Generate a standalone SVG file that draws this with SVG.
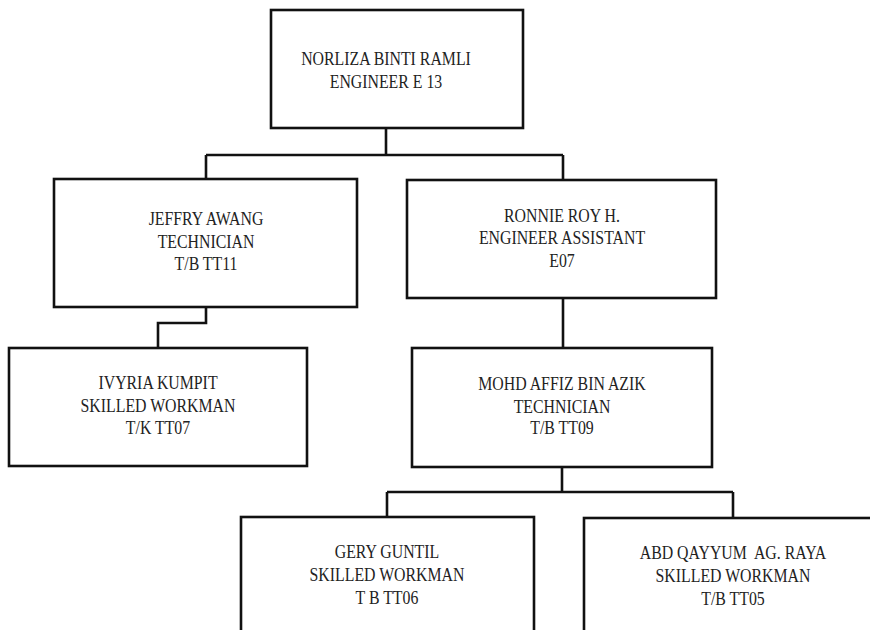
<svg xmlns="http://www.w3.org/2000/svg" width="870" height="630" viewBox="0 0 870 630">
  <style>
    .box { fill: #ffffff; stroke: #111111; stroke-width: 2.6; }
    .link { fill: none; stroke: #111111; stroke-width: 2.6; }
    .label { font-family: "Liberation Serif", "Times New Roman", serif; font-size: 18px; fill: #222222; text-anchor: middle; white-space: pre; }
  </style>
  <rect x="0" y="0" width="870" height="630" fill="#ffffff"/>

  <!-- reporting lines -->
  <g id="connectors">
    <path class="link" d="M386 128 V155 M206 155 H563 M206 155 V179 M563 155 V180"/>
    <path class="link" d="M206 307 V323 H158 V348"/>
    <path class="link" d="M563 298 V348"/>
    <path class="link" d="M562 467 V492 M387 492 H733 M387 492 V517 M733 492 V518"/>
  </g>

  <!-- labels are set in a narrowed serif: each text block is squeezed to 88% width about its centre line -->
  <g id="norliza">
    <rect class="box" x="271" y="10" width="252" height="118"/>
    <g transform="matrix(0.88 0 0 1 46.32 0)">
      <text class="label" x="386" y="65">NORLIZA BINTI RAMLI</text>
      <text class="label" x="386" y="88">ENGINEER E 13</text>
    </g>
  </g>

  <g id="jeffry">
    <rect class="box" x="54" y="179" width="303" height="128"/>
    <g transform="matrix(0.88 0 0 1 24.72 0)">
      <text class="label" x="206" y="225">JEFFRY AWANG</text>
      <text class="label" x="206" y="248">TECHNICIAN</text>
      <text class="label" x="206" y="270">T/B TT11</text>
    </g>
  </g>

  <g id="ronnie">
    <rect class="box" x="407" y="180" width="309" height="118"/>
    <g transform="matrix(0.88 0 0 1 67.44 0)">
      <text class="label" x="562" y="222">RONNIE ROY H.</text>
      <text class="label" x="562" y="244">ENGINEER ASSISTANT</text>
      <text class="label" x="562" y="267">E07</text>
    </g>
  </g>

  <g id="ivyria">
    <rect class="box" x="9" y="348" width="298" height="118"/>
    <g transform="matrix(0.88 0 0 1 18.96 0)">
      <text class="label" x="158" y="389">IVYRIA KUMPIT</text>
      <text class="label" x="158" y="412">SKILLED WORKMAN</text>
      <text class="label" x="158" y="434">T/K TT07</text>
    </g>
  </g>

  <g id="mohd">
    <rect class="box" x="412" y="348" width="300" height="119"/>
    <g transform="matrix(0.88 0 0 1 67.44 0)">
      <text class="label" x="562" y="390">MOHD AFFIZ BIN AZIK</text>
      <text class="label" x="562" y="413">TECHNICIAN</text>
      <text class="label" x="562" y="434">T/B TT09</text>
    </g>
  </g>

  <g id="gery">
    <rect class="box" x="241" y="517" width="293" height="130"/>
    <g transform="matrix(0.88 0 0 1 46.44 0)">
      <text class="label" x="387" y="558">GERY GUNTIL</text>
      <text class="label" x="387" y="581">SKILLED WORKMAN</text>
      <text class="label" x="387" y="604">T B TT06</text>
    </g>
  </g>

  <g id="abd-qayyum">
    <rect class="box" x="584" y="518" width="300" height="130"/>
    <g transform="matrix(0.88 0 0 1 87.96 0)">
      <text class="label" x="733" y="559">ABD QAYYUM  AG. RAYA</text>
      <text class="label" x="733" y="582">SKILLED WORKMAN</text>
      <text class="label" x="733" y="605">T/B TT05</text>
    </g>
  </g>
</svg>
